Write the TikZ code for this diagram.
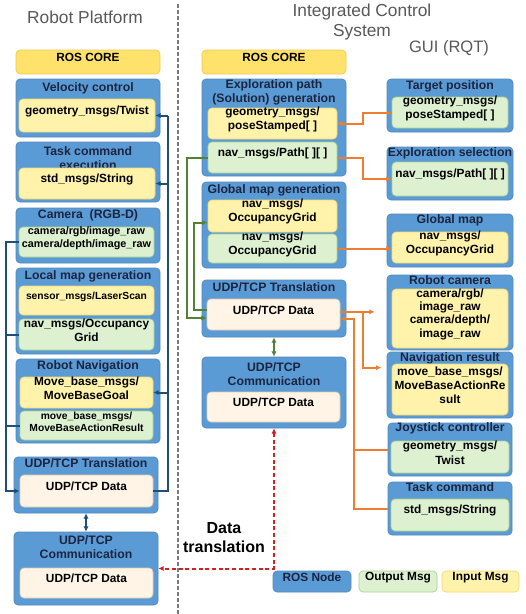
\documentclass[tikz,border=0pt]{standalone}
\usepackage{fontspec}
\setmainfont{Liberation Sans}
\usetikzlibrary{fit,arrows.meta}

\definecolor{nodeblue}{HTML}{5B9BD5}
\definecolor{inyellow}{HTML}{FFF2AB}
\definecolor{inedge}{HTML}{F2D675}
\definecolor{outgreen}{HTML}{DDF0D0}
\definecolor{outedge}{HTML}{A9D18E}
\definecolor{datacream}{HTML}{FFF4E6}
\definecolor{dataedge}{HTML}{E3C7A6}
\definecolor{coreyellow}{HTML}{FFE26B}
\definecolor{coreedge}{HTML}{F2C94C}
\definecolor{headtext}{HTML}{1B2540}
\definecolor{linkblue}{HTML}{1F4E79}
\definecolor{linkgreen}{HTML}{548235}
\definecolor{linkorange}{HTML}{ED7D31}
\definecolor{linkred}{HTML}{D42020}
\definecolor{captiongray}{HTML}{595959}

\newcommand{\rosmsgfont}{\bfseries\fontsize{8.9}{10.6}\selectfont}
\newcommand{\rossmallfont}{\bfseries\fontsize{7.7}{9.6}\selectfont}
\newcommand{\roscamfont}{\bfseries\fontsize{8.1}{9.8}\selectfont}
\newcommand{\rosheadfont}{\bfseries\fontsize{9.2}{10.6}\selectfont}

\begin{document}
\begin{tikzpicture}[x=0.75pt,y=-0.75pt,
    rosnode/.style={draw=nodeblue!88!black, fill=nodeblue, rounded corners=3pt, inner sep=0pt, line width=0.5pt},
    rosmsg/.style={rounded corners=3pt, inner sep=0pt, line width=0.5pt, align=center, font=\rosmsgfont},
    inmsg/.style={rosmsg, draw=inedge, fill=inyellow},
    outmsg/.style={rosmsg, draw=outedge, fill=outgreen},
    datamsg/.style={rosmsg, draw=dataedge, fill=datacream},
    rostitle/.style={align=center, font=\rosheadfont, text=headtext, inner sep=0pt},
    caption/.style={font=\fontsize{13}{14.3}\selectfont, text=captiongray, align=center},
    bluelink/.style={draw=linkblue, line width=1.5pt},
    greenlink/.style={draw=linkgreen, line width=1.5pt},
    orangelink/.style={draw=linkorange, line width=1.5pt},
    redlink/.style={draw=linkred, line width=1.5pt, dash pattern=on 3pt off 2pt},
    >={Latex[length=4pt,width=4pt]}
  ]
    \path[fill=white] (0,0) rectangle (525,614);
    \useasboundingbox (0,0) rectangle (525,614);

    \node[caption] (platform) at (85,17) {Robot Platform};
    \node[caption] (ics) at (362,22) {Integrated Control\\System};
    \node[caption, font=\fontsize{12.4}{14}\selectfont] (gui) at (449,48) {GUI (RQT)};
    \draw[captiongray!80, line width=1.5pt, dash pattern=on 3pt off 1.5pt] (178,4) -- (178,614);

    % robot platform
    \node[rosmsg, draw=coreedge, fill=coreyellow, fit={(16,50) (160,74)}] (core-l) {ROS CORE};

    \node[rosnode, fit={(16,79) (160,137)}] (velctl) {};
    \node[rostitle] (velctl-t) at (88,88) {Velocity control};
    \node[inmsg, fit={(19,99) (155,132)}] (vel-in) {geometry\_msgs/Twist};

    \node[rosnode, fit={(16,142) (160,202)}] (taskexec) {};
    \node[rostitle] (taskexec-t) at (88,158) {Task command\\execution};
    \node[inmsg, fit={(19,168) (155,199)}] (task-in) {std\_msgs/String};

    \node[rosnode, fit={(16,208) (160,263)}] (camera) {};
    \node[rostitle] (camera-t) at (88,215) {Camera~~(RGB-D)};
    \node[outmsg, font=\roscamfont, fit={(19,227) (154,257)}] (cam-out) {camera/rgb/image\_raw\\camera/depth/image\_raw};

    \node[rosnode, fit={(16,268) (160,354)}] (localmap) {};
    \node[rostitle] (localmap-t) at (88,276) {Local map generation};
    \node[inmsg, font=\rossmallfont, fit={(19,286) (154,315)}] (scan-in) {sensor\_msgs/LaserScan};
    \node[outmsg, fit={(19,319) (154,350)}] (lmap-out) {nav\_msgs/Occupancy\\Grid};

    \node[rosnode, fit={(16,359) (160,443)}] (robnav) {};
    \node[rostitle] (robnav-t) at (88,366) {Robot Navigation};
    \node[inmsg, fit={(20,377) (153,408)}] (goal-in) {Move\_base\_msgs/\\MoveBaseGoal};
    \node[outmsg, font=\rossmallfont, fit={(20,411) (153,440)}] (res-out) {move\_base\_msgs/\\MoveBaseActionResult};

    \node[rosnode, fit={(14,457) (158,513)}] (lt-trans) {};
    \node[rostitle] (lt-trans-t) at (86,463) {UDP/TCP Translation};
    \node[datamsg, fit={(20,475) (153,507)}] (lt-data) {UDP/TCP Data};

    \node[rosnode, fit={(14,532) (158,605)}] (lt-comm) {};
    \node[rostitle] (lt-comm-t) at (86,547) {UDP/TCP\\Communication};
    \node[datamsg, fit={(20,568) (153,598)}] (lc-data) {UDP/TCP Data};

    % integrated control system
    \node[rosmsg, draw=coreedge, fill=coreyellow, fit={(202,50) (346,74)}] (core-m) {ROS CORE};

    \node[rosnode, fit={(202,79) (346,176)}] (explore) {};
    \node[rostitle] (explore-t) at (274,92) {Exploration path\\(Solution) generation};
    \node[inmsg, fit={(208,108) (337,139)}] (geo-in) {geometry\_msgs/\\poseStamped[~]};
    \node[outmsg, fit={(208,142) (337,173)}] (path-out) {nav\_msgs/Path[~][~]};

    \node[rosnode, fit={(202,182) (346,268)}] (gmapgen) {};
    \node[rostitle] (gmapgen-t) at (274,190) {Global map generation};
    \node[inmsg, fit={(208,200) (337,232)}] (map-in) {nav\_msgs/\\OccupancyGrid};
    \node[outmsg, fit={(208,234) (337,263)}] (gmap-out) {nav\_msgs/\\OccupancyGrid};

    \node[rosnode, fit={(202,280) (346,337)}] (mid-trans) {};
    \node[rostitle] (mid-trans-t) at (274,287) {UDP/TCP Translation};
    \node[datamsg, fit={(207,299) (340,330)}] (mid-data) {UDP/TCP Data};

    \node[rosnode, fit={(202,357) (346,428)}] (mid-comm) {};
    \node[rostitle] (mid-comm-t) at (274,374) {UDP/TCP\\Communication};
    \node[datamsg, fit={(207,392) (340,422)}] (mc-data) {UDP/TCP Data};

    % gui
    \node[rosnode, fit={(387,79) (513,132)}] (tgt) {};
    \node[rostitle] (tgt-t) at (450,86) {Target position};
    \node[outmsg, fit={(392,97) (508,128)}] (tgt-out) {geometry\_msgs/\\poseStamped[~]};

    \node[rosnode, fit={(387,147) (513,200)}] (sel) {};
    \node[rostitle] (sel-t) at (450,153) {Exploration selection};
    \node[outmsg, fit={(392,162) (508,196)}] (sel-out) {nav\_msgs/Path[~][~]};

    \node[rosnode, fit={(387,214) (513,267)}] (gmapgui) {};
    \node[rostitle] (gmapgui-t) at (450,220) {Global map};
    \node[inmsg, fit={(392,232) (508,263)}] (gmapgui-in) {nav\_msgs/\\OccupancyGrid};

    \node[rosnode, fit={(387,275) (513,350)}] (camgui) {};
    \node[rostitle] (camgui-t) at (450,280) {Robot camera};
    \node[inmsg, font=\bfseries\fontsize{8.9}{10}\selectfont, fit={(392,289) (508,348)}] (camgui-in) {camera/rgb/\\image\_raw\\camera/depth/\\image\_raw};

    \node[rosnode, fit={(387,352) (513,418)}] (navres) {};
    \node[rostitle] (navres-t) at (450,358) {Navigation result};
    \node[inmsg, fit={(392,364) (508,415)}] (navres-in) {move\_base\_msgs/\\MoveBaseActionRe\\sult};

    \node[rosnode, fit={(388,423) (512,476)}] (joy) {};
    \node[rostitle] (joy-t) at (450,428) {Joystick controller};
    \node[outmsg, fit={(391,441) (509,473)}] (joy-out) {geometry\_msgs/\\Twist};

    \node[rosnode, fit={(388,482) (512,535)}] (taskgui) {};
    \node[rostitle] (taskgui-t) at (450,487) {Task command};
    \node[outmsg, fit={(391,499) (509,531)}] (taskgui-out) {std\_msgs/String};

    % legend
    \node[rosnode, rosmsg, text=headtext, fit={(273,571) (351,592)}] (leg-node) {ROS Node};
    \node[outmsg, fit={(359,571) (437,592)}] (leg-out) {Output Msg};
    \node[inmsg, fit={(442,571) (519,592)}] (leg-in) {Input Msg};

    \node[font=\bfseries\fontsize{12}{14.3}\selectfont, align=center] (datatr) at (224,538) {Data\\translation};

    % connectors
    \coordinate (busL) at (6,0);
    \coordinate (busR) at (168,0);
    \draw[bluelink,->] (cam-out.west) -| (busL |- lt-data.west) -- (lt-data.west);
    \draw[bluelink] (lmap-out.west) -- (lmap-out.west -| busL);
    \draw[bluelink] (res-out.west) -- (res-out.west -| busL);
    \draw[bluelink] (lt-data.east) -| (busR |- vel-in.east);
    \draw[bluelink,->] (busR |- vel-in.east) -- (vel-in.east);
    \draw[bluelink,->] (busR |- task-in.east) -- (task-in.east);
    \draw[bluelink,->] (busR |- goal-in.east) -- (goal-in.east);
    \draw[bluelink,<->] (lt-trans.south) -- (lt-comm.north);

    \coordinate (busG1) at (187,0);
    \coordinate (busG2) at (194,0);
    \coordinate (mid-data-gin) at ([yshift=-2.6pt]mid-data.west);
    \coordinate (mid-data-gout) at ([yshift=3.4pt]mid-data.west);
    \coordinate (map-in-g) at ([yshift=-5pt]map-in.west);
    \draw[greenlink,->] (path-out.west) -| (busG1 |- mid-data-gin) -- (mid-data-gin);
    \draw[greenlink,->] (mid-data-gout) -| (busG2 |- map-in-g) -- (map-in-g);
    \draw[greenlink,<->] (mid-trans.south) -- (mid-comm.north);

    \coordinate (busO1) at (363,0);
    \coordinate (busO2) at (354,0);
    \coordinate (mid-data-oout) at ([yshift=2pt]mid-data.east);
    \coordinate (mid-data-oin) at ([yshift=-3.4pt]mid-data.east);
    \coordinate (navres-o) at ([xshift=-4pt,yshift=-12pt]navres.north west);
    \draw[orangelink,->] (tgt-out.west) -| (busO1 |- geo-in.east) -- (geo-in.east);
    \draw[orangelink,->] (path-out.east) -| (busO1 |- sel-out.west) -- (sel-out.west);
    \draw[orangelink,->] (gmap-out.east) -- (gmap-out.east -| gmapgui-in.west);
    \draw[orangelink,->,shorten >=9pt] (mid-data-oout) -- (mid-data-oout -| camgui.west);
    \draw[orangelink,->] (busO1 |- mid-data-oout) |- (navres-o);
    \draw[orangelink,->] (taskgui.west) -| (busO2 |- mid-data-oin) -- (mid-data-oin);
    \draw[orangelink] (joy.west) -- (joy.west -| busO2);

    \draw[redlink,<->] (mid-comm.south) |- (lt-comm.east);
\end{tikzpicture}
\end{document}
